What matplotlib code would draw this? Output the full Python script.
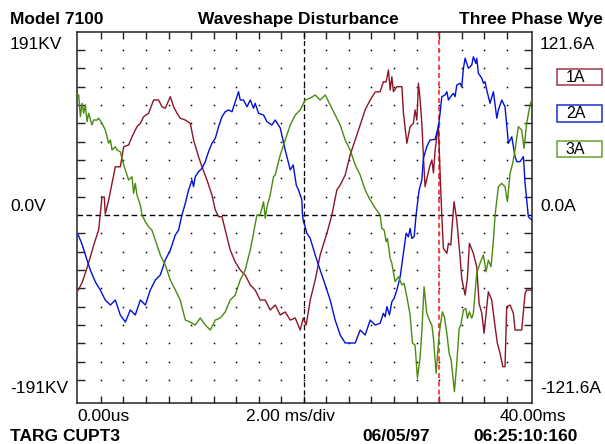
import matplotlib
matplotlib.use("Agg")
import matplotlib.pyplot as plt
import numpy as np
from matplotlib.patches import Rectangle

"""Data: time in ms, current in A (read off the scope trace)"""
red_ms = [0.00, 0.35, 0.71, 1.06, 1.42, 1.80, 2.10, 2.30, 2.39, 2.69,
          3.28, 3.72, 4.02, 4.46, 4.76, 5.20, 5.50, 5.79, 6.23, 6.68,
          7.12, 7.42, 7.71, 8.16, 8.45, 8.75, 9.04, 9.49, 9.93, 10.22,
          10.66, 10.97, 11.41, 11.85, 12.15, 12.44, 12.74, 13.03, 13.47, 13.92,
          14.36, 14.80, 15.25, 15.69, 16.13, 16.58, 17.02, 17.47, 17.91, 18.35,
          18.80, 19.24, 19.68, 19.95, 20.21, 20.57, 21.01, 21.45, 22.05, 22.49,
          22.93, 23.23, 23.67, 24.11, 24.56, 25.00, 25.44, 25.89, 26.33, 26.77,
          27.06, 27.30, 27.51, 27.66, 27.81, 27.95, 28.25, 28.70, 28.84, 29.14,
          29.43, 29.72, 29.87, 30.03, 30.17, 30.32, 30.47, 30.61, 30.76, 31.03,
          31.20, 31.36, 31.50, 31.65, 31.94, 32.09, 32.24, 32.38, 32.69, 32.83,
          33.04, 33.13, 33.33, 33.57, 33.86, 34.01, 34.31, 34.51, 34.69, 35.04,
          35.34, 35.55, 35.79, 35.99, 36.17, 36.37, 36.67, 36.97, 37.17, 37.41,
          37.65, 37.85, 38.00, 38.30, 38.59, 38.74, 39.03, 39.33, 39.63, 39.77,
          40.22]
red_amp = [-49.8, -44.4, -36.5, -27.9, -18.6, -10.0, 12.1, 11.9, 0.7, 10.0,
           32.0, 32.0, 45.3, 46.4, 51.9, 58.6, 60.8, 65.2, 67.5, 76.3,
           76.3, 71.8, 70.8, 78.5, 71.8, 67.5, 64.2, 63.0, 60.8, 49.8,
           38.7, 32.0, 23.2, 13.3, 3.3, -1.1, -1.1, -10.0, -23.2, -31.2,
           -36.5, -39.8, -46.4, -49.8, -56.4, -56.4, -63.0, -59.7, -66.3, -64.3,
           -69.7, -68.3, -76.3, -68.3, -72.9, -56.4, -43.1, -26.5, -12.1, 0.0,
           16.6, 19.9, 26.5, 39.8, 49.8, 59.7, 69.7, 76.3, 81.6, 81.8,
           88.4, 88.2, 96.2, 82.9, 91.7, 81.8, 85.1, 85.1, 67.5, 47.6,
           58.6, 60.8, 69.7, 63.0, 87.4, 76.3, 60.8, 38.7, 18.8, 27.9,
           33.2, 36.5, 27.9, 43.1, 59.7, 27.9, 0.0, -22.1, -25.4, -18.8,
           -19.9, -10.0, 8.8, -3.3, -27.7, -42.0, -53.1, -42.0, -18.8, -25.4,
           -34.3, -58.6, -65.2, -78.5, -65.2, -50.9, -56.4, -74.1, -85.1, -91.7,
           -100.6, -100.6, -60.8, -59.7, -65.2, -76.3, -76.3, -76.3, -51.9, -49.8,
           -49.8]

blue_ms = [0.00, 0.35, 0.71, 1.06, 1.51, 1.95, 2.39, 2.84, 3.28, 3.72,
           4.17, 4.61, 5.05, 5.50, 5.94, 6.38, 6.83, 7.27, 7.71, 8.16,
           8.60, 8.89, 9.19, 9.49, 9.78, 10.08, 10.22, 10.37, 10.66, 10.97,
           11.26, 11.55, 11.85, 12.15, 12.44, 12.74, 13.03, 13.32, 13.63, 13.92,
           14.21, 14.36, 14.65, 14.96, 15.25, 15.54, 15.69, 15.98, 16.43, 16.73,
           17.17, 17.46, 17.91, 18.35, 18.80, 19.06, 19.33, 19.53, 19.83, 19.88,
           19.97, 20.12, 20.27, 20.57, 21.01, 21.45, 21.90, 22.34, 22.78, 23.23,
           23.67, 24.11, 24.56, 25.00, 25.44, 25.89, 26.33, 26.77, 27.06, 27.22,
           27.37, 27.60, 27.81, 28.01, 28.25, 28.55, 28.84, 29.08, 29.28, 29.43,
           29.58, 29.79, 29.96, 30.23, 30.47, 30.61, 30.91, 31.20, 31.65, 31.94,
           32.09, 32.24, 32.53, 32.69, 32.83, 33.13, 33.27, 33.42, 33.57, 33.86,
           34.01, 34.16, 34.31, 34.60, 34.90, 35.04, 35.26, 35.34, 35.49, 35.79,
           35.94, 36.08, 36.23, 36.52, 36.82, 37.12, 37.26, 37.56, 37.85, 38.15,
           38.45, 38.74, 38.89, 39.18, 39.48, 39.63, 39.92, 40.22]
blue_amp = [-13.3, -19.9, -28.5, -36.5, -44.4, -49.8, -56.4, -59.7, -56.4, -66.3,
            -71.0, -63.0, -66.3, -56.4, -59.7, -49.8, -43.1, -39.8, -29.9, -23.2,
            -13.3, -10.0, 0.0, 7.8, 16.6, 23.2, 18.8, 25.4, 28.7, 31.0,
            35.4, 42.0, 47.6, 50.9, 58.6, 65.2, 68.5, 69.7, 68.5, 75.2,
            81.8, 76.3, 76.3, 71.8, 76.3, 70.8, 74.1, 67.5, 66.3, 61.9,
            59.7, 63.0, 57.7, 43.1, 29.9, 33.2, 19.9, 16.6, 10.0, 0.0,
            -4.4, -7.8, -12.1, -15.5, -26.5, -36.5, -46.4, -56.4, -69.7, -79.6,
            -84.9, -84.9, -84.9, -76.3, -79.6, -69.7, -73.0, -71.8, -65.2, -67.5,
            -60.8, -66.3, -57.5, -55.3, -49.8, -40.9, -25.4, -12.1, -14.4, -8.8,
            -15.5, -14.4, 0.0, 16.6, 23.2, 37.6, 45.3, 49.8, 50.2, 58.6,
            67.5, 78.5, 79.6, 81.8, 76.3, 79.6, 80.7, 78.5, 86.2, 87.4,
            85.1, 97.3, 104.0, 97.3, 99.5, 105.0, 100.6, 104.0, 94.0, 90.7,
            87.4, 88.4, 82.9, 74.1, 81.8, 64.2, 69.7, 76.3, 71.8, 47.6,
            51.9, 38.7, 35.4, 35.4, 38.7, 21.0, -1.1, -3.3]

green_ms = [0.03, 0.18, 0.33, 0.47, 0.62, 0.77, 0.91, 1.21, 1.36, 1.66,
            1.80, 2.10, 2.39, 2.54, 2.69, 2.84, 2.99, 3.28, 3.43, 3.72,
            3.87, 4.02, 4.17, 4.46, 4.76, 4.90, 5.05, 5.20, 5.50, 5.65,
            5.94, 6.23, 6.53, 6.83, 7.27, 7.71, 8.16, 8.60, 9.04, 9.49,
            9.93, 10.37, 10.82, 11.26, 11.70, 12.15, 12.59, 13.03, 13.47, 13.92,
            14.36, 14.80, 15.25, 15.51, 15.84, 16.13, 16.43, 16.58, 16.73, 17.02,
            17.31, 17.46, 17.91, 18.35, 18.80, 19.24, 19.68, 20.12, 20.57, 21.01,
            21.45, 21.90, 22.34, 22.78, 23.23, 23.67, 24.11, 24.56, 25.00, 25.44,
            25.89, 26.33, 26.77, 26.92, 27.13, 27.30, 27.42, 27.66, 27.81, 28.10,
            28.40, 28.70, 28.90, 29.14, 29.43, 29.64, 29.87, 30.08, 30.32, 30.47,
            30.67, 30.91, 31.20, 31.36, 31.50, 31.74, 31.94, 32.09, 32.30, 32.47,
            32.69, 32.89, 33.07, 33.22, 33.36, 33.57, 33.78, 33.93, 34.16, 34.37,
            34.51, 34.69, 34.90, 35.04, 35.34, 35.57, 35.93, 36.17, 36.37, 36.61,
            36.82, 36.97, 37.26, 37.56, 37.85, 38.06, 38.30, 38.53, 38.74, 39.03,
            39.33, 39.54, 39.77, 40.07, 40.22]
green_amp = [79.6, 65.2, 74.1, 67.5, 73.0, 61.9, 67.5, 59.7, 63.0, 63.0,
             64.2, 60.8, 56.4, 51.9, 47.6, 49.8, 43.1, 45.3, 43.1, 42.0,
             37.6, 33.2, 29.9, 23.2, 25.4, 14.4, 21.0, 13.3, 6.6, 0.0,
             -4.4, -7.8, -10.0, -16.6, -26.5, -33.2, -43.1, -49.8, -56.4, -69.7,
             -71.0, -73.0, -68.3, -73.0, -76.3, -69.7, -68.3, -64.3, -56.4, -53.1,
             -43.1, -36.5, -23.2, -13.3, 0.0, 0.0, 8.8, -2.2, 5.5, 13.3,
             25.4, 26.5, 39.8, 49.8, 59.7, 66.3, 69.7, 76.3, 77.6, 79.6,
             76.3, 79.6, 73.0, 66.3, 59.7, 49.8, 43.1, 33.2, 26.5, 16.6,
             10.0, 4.6, 0.0, -8.8, -10.0, -17.7, -15.5, -28.7, -32.0, -44.2,
             -40.9, -46.4, -45.3, -54.2, -66.3, -85.1, -86.2, -108.3, -94.0, -77.4,
             -47.6, -65.2, -70.8, -73.0, -81.8, -105.0, -85.1, -74.1, -64.2, -67.5,
             -78.5, -91.7, -96.2, -107.3, -117.2, -98.4, -75.2, -73.0, -63.0, -61.9,
             -68.5, -64.2, -68.5, -65.2, -38.7, -33.2, -26.5, -37.6, -29.9, -34.3,
             -16.6, 0.0, 18.8, 21.0, 18.8, 8.8, 27.7, 34.3, 43.1, 58.6,
             56.4, 44.2, 60.8, 73.0, 76.3]

channel_names = ["1A", "2A", "3A"]
channel_colors = ["#8c1428", "#0010d8", "#4a8a10"]
box_colors = ["#a03848", "#1830d0", "#64a032"]

full_scale_amp = 121.6   # A, top of screen
amp_per_div = 12.16
ms_per_div = 2.0
trigger_ms = 20.0
cursor_ms = 32.0

"""Figure"""
plt.rcParams['font.family'] = ['Liberation Sans', 'DejaVu Sans']
W, H = 605, 444
fig = plt.figure(figsize=(W / 100, H / 100), dpi=100)

def fx(px):
    return px / W

def fy(py):
    return 1 - py / H

ax = fig.add_axes([fx(77), fy(402.7), fx(532.3) - fx(77), fy(31.7) - fy(402.7)])
ax.set_xlim(-0.12, 40.27)
ax.set_ylim(-124.5, full_scale_amp)

# division ticks + dotted grid
xdiv = np.arange(ms_per_div, 40, ms_per_div)
ydiv = np.array([k * amp_per_div for k in range(-9, 10) if k != 0])
ax.set_xticks(xdiv)
ax.set_yticks(ydiv)
ax.tick_params(direction='in', top=True, right=True, bottom=True, left=True,
               labelbottom=False, labelleft=False, color='#222222', width=1.0)
ax.tick_params(axis='x', length=4.8)
ax.tick_params(axis='y', length=6.0)
gx, gy = np.meshgrid(xdiv, ydiv)
ax.plot(gx.ravel(), gy.ravel(), ls='none', marker='s', ms=1.1, mew=0,
        color='black', zorder=1)

for s in ax.spines.values():
    s.set_linewidth(1.1)
    s.set_color('#222222')

ax.axhline(0, color='black', lw=1.0, ls=(0, (4, 2.5)), zorder=2)
ax.axvline(trigger_ms, color='black', lw=0.9, ls=(0, (4, 2.5)), zorder=2)
ax.axvline(cursor_ms, color='#ff2a2a', lw=1.2, ls=(0, (3, 2)), zorder=2)

ax.plot(red_ms, red_amp, color=channel_colors[0], lw=1.0, zorder=3)
ax.plot(blue_ms, blue_amp, color=channel_colors[1], lw=1.0, zorder=3)
ax.plot(green_ms, green_amp, color=channel_colors[2], lw=1.0, zorder=3)

"""Texts"""
fs = 12.5
bold = dict(fontsize=fs, fontweight='bold', va='baseline')
norm = dict(fontsize=fs, va='baseline')
fig.text(fx(10), fy(24), "Model 7100", ha='left', **bold)
fig.text(fx(298), fy(24), "Waveshape Disturbance", ha='center', **bold)
fig.text(fx(603), fy(24), "Three Phase Wye", ha='right', **bold)

fig.text(fx(10), fy(49), "191KV", ha='left', **norm)
fig.text(fx(540), fy(49), "121.6A", ha='left', **norm)
fig.text(fx(10), fy(211), "0.0V", ha='left', **norm)
fig.text(fx(540), fy(211), "0.0A", ha='left', **norm)
fig.text(fx(10), fy(393), "-191KV", ha='left', **norm)
fig.text(fx(540), fy(393), "-121.6A", ha='left', **norm)

fig.text(fx(77), fy(421), "0.00us", ha='left', **norm)
fig.text(fx(291), fy(421), "2.00 ms/div", ha='center', **norm)
fig.text(fx(566), fy(421), "40.00ms", ha='right', **norm)

fig.text(fx(10), fy(441), "TARG CUPT3", ha='left', **bold)
fig.text(fx(362), fy(441), "06/05/97", ha='left', **bold)
fig.text(fx(578), fy(441), "06:25:10:160", ha='right', **bold)

# channel boxes
box_tops = [69, 105, 141]
for name, col, top in zip(channel_names, box_colors, box_tops):
    fig.patches.append(Rectangle((fx(557), fy(top + 16.5)), fx(602) - fx(557),
                                 fy(top) - fy(top + 16.5), transform=fig.transFigure,
                                 fill=False, edgecolor=col, lw=1.1))
    fig.text(fx(575.5), fy(top + 8.5), name, ha='center', va='center', fontsize=11.5)

fig.savefig("out.png", dpi=100)
print("end of script")
